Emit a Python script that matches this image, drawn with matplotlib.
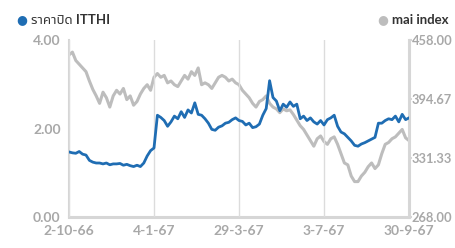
import numpy as np
import matplotlib
matplotlib.use("Agg")
import matplotlib.pyplot as plt

# closing price ITTHI (left axis), roughly every 2-3 trading days
itthi = [1.47, 1.45, 1.44, 1.48, 1.42, 1.40, 1.28, 1.24, 1.22, 1.22,
         1.20, 1.22, 1.18, 1.20, 1.20, 1.21, 1.17, 1.19, 1.16, 1.14,
         1.17, 1.14, 1.22, 1.38, 1.50, 1.56, 2.30, 2.25, 2.18, 2.05,
         2.15, 2.28, 2.22, 2.38, 2.25, 2.42, 2.35, 2.58, 2.32, 2.30,
         2.22, 2.12, 1.98, 1.96, 2.03, 2.06, 2.12, 2.14, 2.20, 2.24,
         2.18, 2.16, 2.08, 2.12, 2.02, 2.04, 2.10, 2.30, 2.45, 3.08,
         2.70, 2.62, 2.40, 2.55, 2.48, 2.60, 2.50, 2.55, 2.22, 2.28,
         2.18, 2.24, 2.15, 2.10, 2.18, 2.08, 2.20, 2.24, 2.30, 2.05,
         1.92, 1.88, 1.80, 1.72, 1.62, 1.60, 1.65, 1.68, 1.72, 1.76,
         1.80, 2.12, 2.12, 2.18, 2.22, 2.20, 2.28, 2.15, 2.32, 2.20,
         2.24]

# mai index (right axis)
mai = [442, 445, 436, 432, 428, 424, 414, 405, 398, 390,
       402, 396, 386, 398, 404, 400, 406, 394, 398, 388,
       392, 400, 406, 410, 404, 418, 422, 418, 420, 412,
       414, 410, 408, 414, 420, 416, 424, 420, 428, 410,
       412, 410, 406, 412, 418, 420, 418, 414, 416, 412,
       410, 404, 400, 396, 390, 386, 392, 394, 398, 390,
       386, 384, 380, 384, 382, 383, 378, 372, 366, 362,
       356, 350, 344, 352, 355, 349, 346, 352, 354, 346,
       336, 326, 324, 312, 306, 306, 312, 316, 322, 326,
       320, 324, 336, 346, 348, 352, 354, 358, 362, 353,
       350]

date_labels = ["2-10-66", "4-1-67", "29-3-67", "3-7-67", "30-9-67"]
left_ticks = [0, 2, 4]
right_ticks = [268.00, 331.33, 394.67, 458.00]

blue = "#1f6db3"
grey = "#bdbdbd"
axis_col = "#d6d6d6"
label_col = "#a8a8a8"

plt.rcParams["font.family"] = ["Lato", "Noto Sans Thai", "Tahoma", "Loma", "DejaVu Sans"]

fig = plt.figure(figsize=(4.56, 2.48), dpi=100)
ax = fig.add_axes([69 / 456, 31 / 248, 340 / 456, 177 / 248])
ax2 = ax.twinx()

x = np.arange(len(itthi))
ax2.plot(x, mai, color=grey, lw=2.2, solid_joinstyle="round")
ax.plot(x, itthi, color=blue, lw=2.0, solid_joinstyle="round")
ax.set_zorder(ax2.get_zorder() + 1)
ax.patch.set_visible(False)

ax.set_xlim(0, len(itthi) - 1)
ax.set_ylim(0, 4)
ax2.set_ylim(268, 458)

xt = np.linspace(0, len(itthi) - 1, 5)
ax.set_xticks(xt)
ax.set_xticklabels(date_labels)
ax.set_yticks(left_ticks)
ax.set_yticklabels(["%.2f" % v for v in left_ticks])
ax2.set_yticks(right_ticks)
ax2.set_yticklabels(["%.2f" % v for v in right_ticks])

for a in (ax, ax2):
    for s in a.spines.values():
        s.set_visible(False)
for side, w in (("left", 1.5), ("bottom", 2.2), ("right", 2.2)):
    ax2.spines[side].set_visible(True)
    ax2.spines[side].set_color(axis_col)
    ax2.spines[side].set_linewidth(w)

ax.grid(axis="x", color="#dcdcdc", lw=1)
ax.tick_params(axis="x", length=0, pad=6, labelsize=10, labelcolor=label_col)
ax.tick_params(axis="y", length=0, pad=6, labelsize=10, labelcolor=label_col)
ax2.tick_params(axis="y", length=2, width=1.5, color=axis_col, pad=0,
                labelsize=9.3, labelcolor=label_col)
for lab in ax.get_xticklabels() + ax.get_yticklabels() + ax2.get_yticklabels():
    lab.set_fontweight("bold")

# legend
fig.text(22 / 456, 1 - 20 / 248, "●", color=blue, fontsize=9, va="center", ha="center",
         family="DejaVu Sans")
fig.text(31 / 456, 1 - 20 / 248, "ราคาปิด ITTHI", color="#333333", fontsize=9.5,
         fontweight="bold", va="center", ha="left")
fig.text(383 / 456, 1 - 20 / 248, "●", color=grey, fontsize=9, va="center", ha="center",
         family="DejaVu Sans")
fig.text(392 / 456, 1 - 20 / 248, "mai index", color="#333333", fontsize=9.5,
         fontweight="bold", va="center", ha="left")

fig.savefig("out.png", dpi=100)
